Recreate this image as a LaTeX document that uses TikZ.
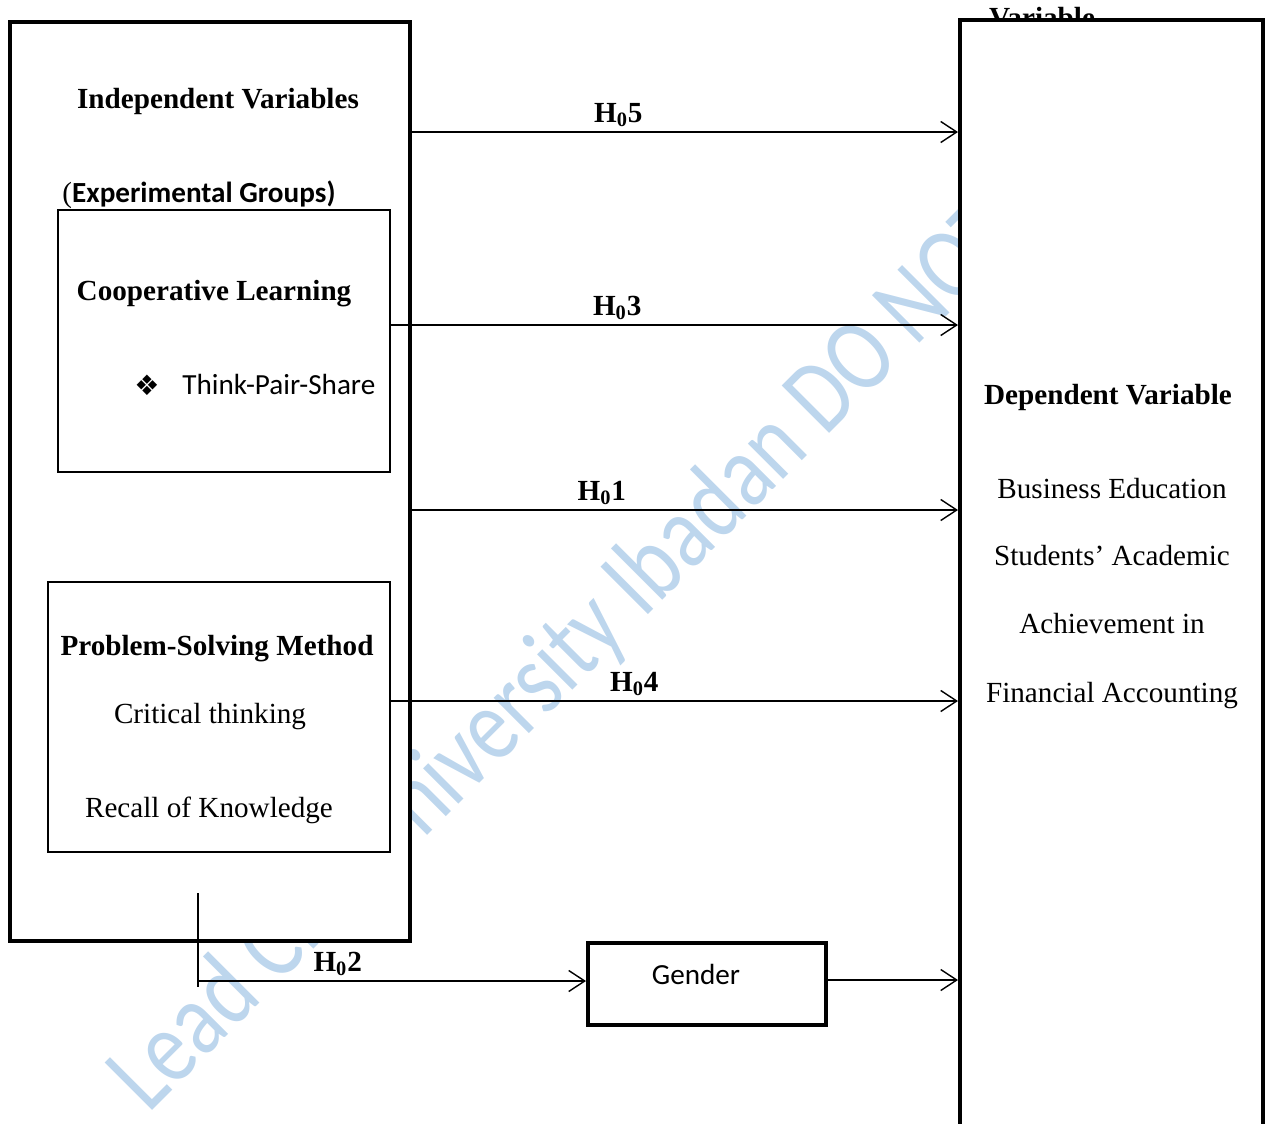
\documentclass[tikz,border=0pt]{standalone}
\usepackage{fontspec}
\setmainfont{Liberation Serif}
\newfontfamily\calibri{Carlito}
\newfontfamily\dejavu{DejaVu Sans}
\usetikzlibrary{arrows.meta,positioning}
\definecolor{markblue}{RGB}{189,214,237}
\newcommand{\docsize}{\fontsize{16.6}{20}\selectfont}

\tikzset{
  thickbox/.style={draw, rectangle, line width=2.3pt, fill=white, inner sep=0pt},
  thinbox/.style={draw, rectangle, line width=1.1pt, fill=white, inner sep=0pt},
  txt/.style={font=\docsize, anchor=base},
  boldtxt/.style={font=\docsize\bfseries, anchor=base},
  hyp/.style={line width=0.8pt, -{Straight Barb[length=0.32cm,width=0.42cm,line width=0.8pt]}},
  hlab/.style={font=\docsize\bfseries, anchor=base, yshift=0.2cm}
}

\begin{document}
\begin{tikzpicture}[x=0.02cm, y=-0.02cm]
  \useasboundingbox (0,0) rectangle (1265,1123);
  \clip (0,0) rectangle (1265,1123);

  \node[anchor=base west, inner sep=0pt, rotate=45, text=markblue, font=\calibri\fontsize{59.5}{64}\selectfont] (mark) at (148,1115) {\scalebox{0.815}[1]{Lead City University Ibadan DO NOT COPY}};
  \node[boldtxt] (vartop) at (1042,27) {Variable};

  \node[thickbox, minimum width=8cm, minimum height=18.38cm] (indep) at (210,481.5) {};
  \node[thinbox, minimum width=6.64cm, minimum height=5.24cm] (coop) at (224,341) {};
  \node[thinbox, minimum width=6.84cm, minimum height=5.4cm] (probsolv) at (219,717) {};
  \node[thickbox, minimum width=6.06cm, minimum height=22.3cm] (dep) at (1111.5,577.5) {};
  \node[thickbox, minimum width=4.76cm, minimum height=1.64cm] (gender) at (707,984) {};

  \node[boldtxt] (indtitle) at (218,108) {Independent Variables};
  \node[txt] (expgrp) at (199,202) {(\calibri\bfseries Experimental Groups)};
  \node[boldtxt] (cooptitle) at (214,300) {Cooperative Learning};
  \node[font=\dejavu\fontsize{16}{18}\selectfont] (bullet) at (147,385) {❖};
  \node[font=\calibri\docsize, anchor=base west, inner sep=0pt] (tps) at (182,394) {Think-Pair-Share};
  \node[boldtxt] (pstitle) at (217,655) {Problem-Solving Method};
  \node[txt] (crit) at (210,723) {Critical thinking};
  \node[txt] (recall) at (209,817) {Recall of Knowledge};
  \node[font=\calibri\docsize, anchor=base] (gendertxt) at (696,984) {Gender};

  \node[boldtxt] (deptitle) at (1108,404) {Dependent Variable};
  \node[txt] (dep1) at (1112,498) {Business Education};
  \node[txt] (dep2) at (1112,565) {Students’ Academic};
  \node[txt] (dep3) at (1112,633) {Achievement in};
  \node[txt] (dep4) at (1112,702) {Financial Accounting};

  \coordinate (h5) at (410,132);
  \coordinate (h3) at (390,325);
  \coordinate (h1) at (410,510);
  \coordinate (h4) at (390,701);
  \coordinate (h2top) at (198,893);
  \coordinate (h2bot) at (198,987);
  \coordinate (h2) at (198,981);
  \coordinate (hg) at (826,980);

  \draw[hyp] (h5) -- (h5 -| dep.west) node[hlab, pos=0.38] (lab5) {H\textsubscript{0}5};
  \draw[hyp] (h3) -- (h3 -| dep.west) node[hlab, pos=0.40] (lab3) {H\textsubscript{0}3};
  \draw[hyp] (h1) -- (h1 -| dep.west) node[hlab, pos=0.35] (lab1) {H\textsubscript{0}1};
  \draw[hyp] (h4) -- (h4 -| dep.west) node[hlab, pos=0.43] (lab4) {H\textsubscript{0}4};
  \draw[line width=0.8pt] (h2top) -- (h2bot);
  \draw[hyp] (h2) -- (h2 -| gender.west) node[hlab, pos=0.36] (lab2) {H\textsubscript{0}2};
  \draw[hyp] (hg) -- (hg -| dep.west);
\end{tikzpicture}
\end{document}
